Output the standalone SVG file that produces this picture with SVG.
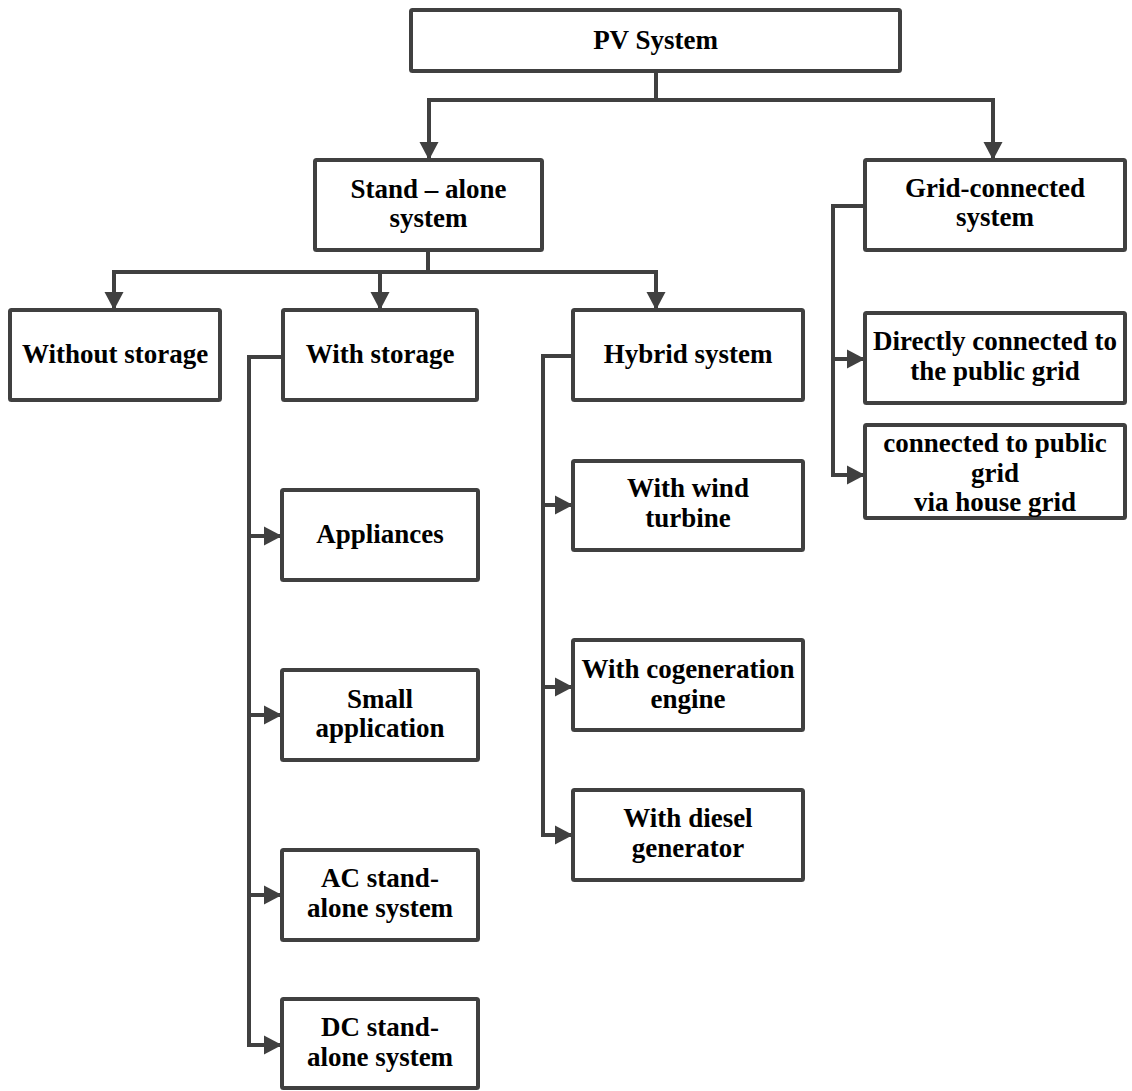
<svg xmlns="http://www.w3.org/2000/svg" width="1132" height="1091" viewBox="0 0 1132 1091">
<style>
.box{fill:#fff;stroke:#404040;stroke-width:4;}
text{font-family:'Liberation Serif',serif;font-weight:700;font-size:27px;fill:#000;text-anchor:middle;}
.c{fill:none;stroke:#404040;stroke-width:4;stroke-linejoin:miter;}
</style>
<defs>
<marker id="ah" markerUnits="userSpaceOnUse" markerWidth="20" markerHeight="20" viewBox="0 0 20 20" refX="18" refY="10" orient="auto">
<path d="M0,0.5 L18,10 L0,19.5 Z" fill="#404040"/>
</marker>
</defs>
<rect width="1132" height="1091" fill="#fff"/>
<g id="connectors">
<path class="c" d="M656,71 V100 H429 V160" marker-end="url(#ah)"/>
<path class="c" d="M656,100 H993 V160" marker-end="url(#ah)"/>
<path class="c" d="M428,250 V272 H114 V310" marker-end="url(#ah)"/>
<path class="c" d="M428,272 H380 V310" marker-end="url(#ah)"/>
<path class="c" d="M428,272 H656 V310" marker-end="url(#ah)"/>
<path class="c" d="M283,357 H249 V1045 H282" marker-end="url(#ah)"/>
<path class="c" d="M249,536 H282" marker-end="url(#ah)"/>
<path class="c" d="M249,715 H282" marker-end="url(#ah)"/>
<path class="c" d="M249,895 H282" marker-end="url(#ah)"/>
<path class="c" d="M573,356 H543 V835 H573" marker-end="url(#ah)"/>
<path class="c" d="M543,505 H573" marker-end="url(#ah)"/>
<path class="c" d="M543,687 H573" marker-end="url(#ah)"/>
<path class="c" d="M865,206 H833 V475 H865" marker-end="url(#ah)"/>
<path class="c" d="M833,359 H865" marker-end="url(#ah)"/>
</g>
<g id="pv"><rect class="box" x="411" y="10" width="489" height="61" rx="1.5"/><text x="655.5" y="49">PV System</text></g>
<g id="standalone"><rect class="box" x="315" y="160" width="227" height="90" rx="1.5"/><text x="428.5" y="198">Stand – alone</text><text x="428.5" y="227">system</text></g>
<g id="grid"><rect class="box" x="865" y="160" width="260" height="90" rx="1.5"/><text x="995" y="197">Grid-connected</text><text x="995" y="226">system</text></g>
<g id="without"><rect class="box" x="10" y="310" width="210" height="90" rx="1.5"/><text x="115" y="363">Without storage</text></g>
<g id="withstorage"><rect class="box" x="283" y="310" width="194" height="90" rx="1.5"/><text x="380" y="363">With storage</text></g>
<g id="hybrid"><rect class="box" x="573" y="310" width="230" height="90" rx="1.5"/><text x="688" y="363">Hybrid system</text></g>
<g id="direct"><rect class="box" x="865" y="313" width="260" height="90" rx="1.5"/><text x="995" y="350">Directly connected to</text><text x="995" y="380">the public grid</text></g>
<g id="house"><rect class="box" x="865" y="425" width="260" height="93" rx="1.5"/><text x="995" y="452">connected to public</text><text x="995" y="482">grid</text><text x="995" y="511">via house grid</text></g>
<g id="wind"><rect class="box" x="573" y="461" width="230" height="89" rx="1.5"/><text x="688" y="497">With wind</text><text x="688" y="527">turbine</text></g>
<g id="cogen"><rect class="box" x="573" y="640" width="230" height="90" rx="1.5"/><text x="688" y="678">With cogeneration</text><text x="688" y="708">engine</text></g>
<g id="diesel"><rect class="box" x="573" y="790" width="230" height="90" rx="1.5"/><text x="688" y="827">With diesel</text><text x="688" y="857">generator</text></g>
<g id="appliances"><rect class="box" x="282" y="490" width="196" height="90" rx="1.5"/><text x="380" y="543">Appliances</text></g>
<g id="small"><rect class="box" x="282" y="670" width="196" height="90" rx="1.5"/><text x="380" y="708">Small</text><text x="380" y="737">application</text></g>
<g id="ac"><rect class="box" x="282" y="850" width="196" height="90" rx="1.5"/><text x="380" y="887">AC stand-</text><text x="380" y="917">alone system</text></g>
<g id="dc"><rect class="box" x="282" y="999" width="196" height="89" rx="1.5"/><text x="380" y="1036">DC stand-</text><text x="380" y="1066">alone system</text></g>
</svg>
